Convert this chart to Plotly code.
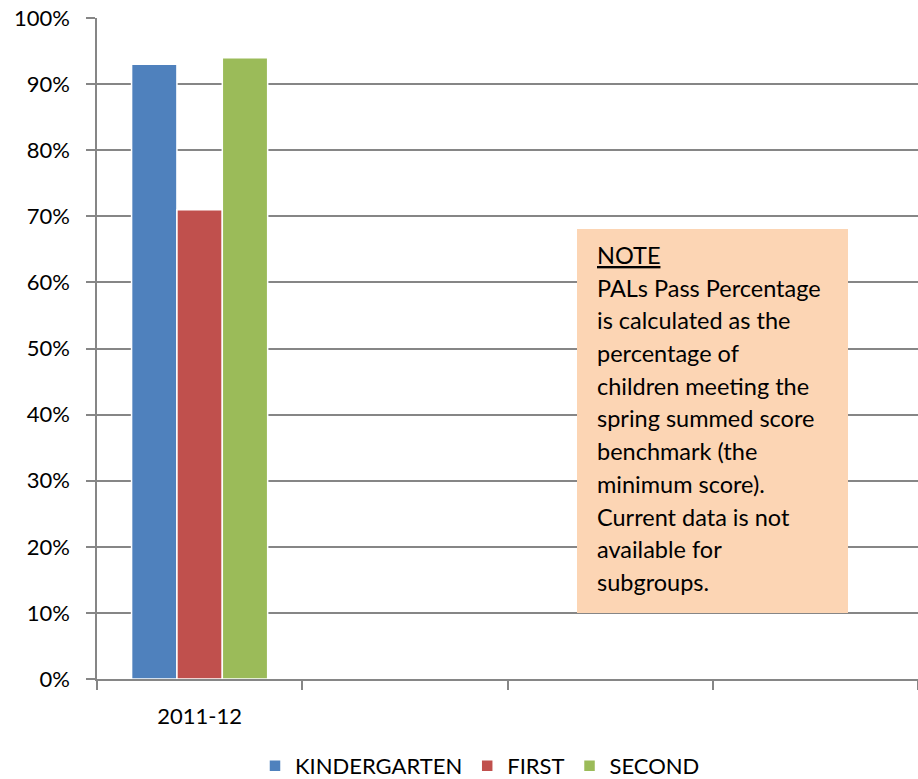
import plotly.graph_objects as go

categories = ["2011-12", " ", "  ", "   "]
series_names = ["KINDERGARTEN", "FIRST", "SECOND"]
kindergarten = [0.93, None, None, None]
first = [0.71, None, None, None]
second = [0.94, None, None, None]
colors = ["#4F81BD", "#C0504D", "#9BBB59"]
y_ticks = [i / 10 for i in range(11)]
note_lines = [
    "<u>NOTE</u>",
    "PALs Pass Percentage",
    "is calculated as the",
    "percentage of",
    "children meeting the",
    "spring summed score",
    "benchmark (the",
    "minimum score).",
    "Current data is not",
    "available for",
    "subgroups.",
]

FONT = "Lato"
W, H = 918, 779
ML, MR, MT, MB = 97, 0, 18, 100
PW = W - ML - MR
PH = H - MT - MB

def px_x(p):
    return (p - ML) / PW

def px_y(p):
    return (H - MB - p) / PH

fig = go.Figure()
for name, vals, c in zip(series_names, [kindergarten, first, second], colors):
    fig.add_trace(go.Bar(
        x=categories, y=vals, name=name,
        marker=dict(color=c, line=dict(color="white", width=1.5)),
    ))

# note box
fig.add_shape(type="rect", xref="paper", yref="paper",
              x0=px_x(577), x1=px_x(848), y0=px_y(613), y1=px_y(229),
              fillcolor="#FCD5B4", line=dict(width=0), layer="above")

for i, line in enumerate(note_lines):
    fig.add_annotation(
        x=px_x(595), y=px_y(255 + 32.7 * i), xref="paper", yref="paper",
        text=line, showarrow=False, xanchor="left", yanchor="middle",
        font=dict(family=FONT, size=23.5, color="#000000"),
    )

fig.update_layout(
    width=W, height=H,
    margin=dict(l=ML, r=MR, t=MT, b=MB, pad=0, autoexpand=False),
    paper_bgcolor="white", plot_bgcolor="white",
    barmode="group", bargap=0.337, bargroupgap=0.0,
    font=dict(family=FONT, size=22, color="#000000"),
    showlegend=True,
    legend=dict(orientation="h", xref="container", yref="container",
                x=480 / W, xanchor="center",
                y=(H - 766) / H, yanchor="middle",
                font=dict(family=FONT, size=22), itemwidth=30,
                traceorder="normal"),
)
fig.update_xaxes(
    type="category", categoryorder="array", categoryarray=categories,
    range=[-0.5, 3.5], showgrid=False, showline=True, linecolor="#868686",
    linewidth=1.5, ticks="outside", tickson="boundaries", ticklen=9,
    tickcolor="#868686", tickwidth=1.5, tickfont=dict(family=FONT, size=22),
    zeroline=False, ticklabelstandoff=17, automargin=False,
)
fig.update_yaxes(
    range=[0, 1], tickvals=y_ticks, tickformat=".0%", showgrid=True,
    gridcolor="#868686", gridwidth=1.5, showline=True, linecolor="#868686",
    linewidth=1.5, ticks="outside", ticklen=9, tickcolor="#868686",
    tickwidth=1.5, tickfont=dict(family=FONT, size=22), zeroline=False,
    ticklabelstandoff=12, automargin=False,
)

fig.write_html("out.html", config={"displayModeBar": False},
               post_script="document.body.style.margin='0';")
